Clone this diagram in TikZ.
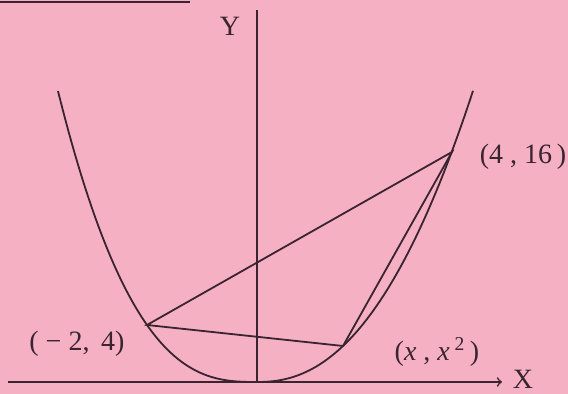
\documentclass[tikz,border=0pt]{standalone}
\usepackage{fontspec}
\setmainfont{Liberation Serif}
\definecolor{paper}{RGB}{246,176,196}
\definecolor{ink}{RGB}{58,36,48}
\tikzset{
  curve/.style={ink, line width=0.9pt},
  axis/.style={ink, line width=0.8pt},
  lbl/.style={ink, font=\fontsize{14}{16}\selectfont, inner sep=1pt}
}
\begin{document}
\begin{tikzpicture}[x=0.5pt,y=0.5pt]
\fill[paper] (-257,-12) rectangle (311,382);
\useasboundingbox (-257,-12) rectangle (311,382);
\draw[ink, line width=0.7pt] (-257,380) -- (-67,380);
% axes
\draw[axis,->] (-249,0) -- (245,0) node[lbl, right=4pt, yshift=1.5pt] (xlab) {X};
\draw[axis] (0,0) -- (0,372);
\node[lbl] (ylab) at (-27,356) {Y};
% parabola
\draw[curve] plot[domain=-199:-0.01, samples=80] (\x, {57*pow(-\x/110,2.75)})
  -- plot[domain=0.01:216, samples=80] (\x, {36*pow(\x/86,2.27)});
\coordinate (A) at (-110,57);
\coordinate (B) at (195,230);
\coordinate (P) at (86,36);
\draw[curve] (A) -- (B) -- (P) -- cycle;
\node[lbl] (alab) at (-180,38) {( − 2,\, 4)};
\node[lbl] (blab) at (266,225) {(4 , 16\,)};
\node[lbl] (plab) at (180,30) {(\textit{x} , \textit{x}\,\textsuperscript{2}\,)};
\end{tikzpicture}
\end{document}
